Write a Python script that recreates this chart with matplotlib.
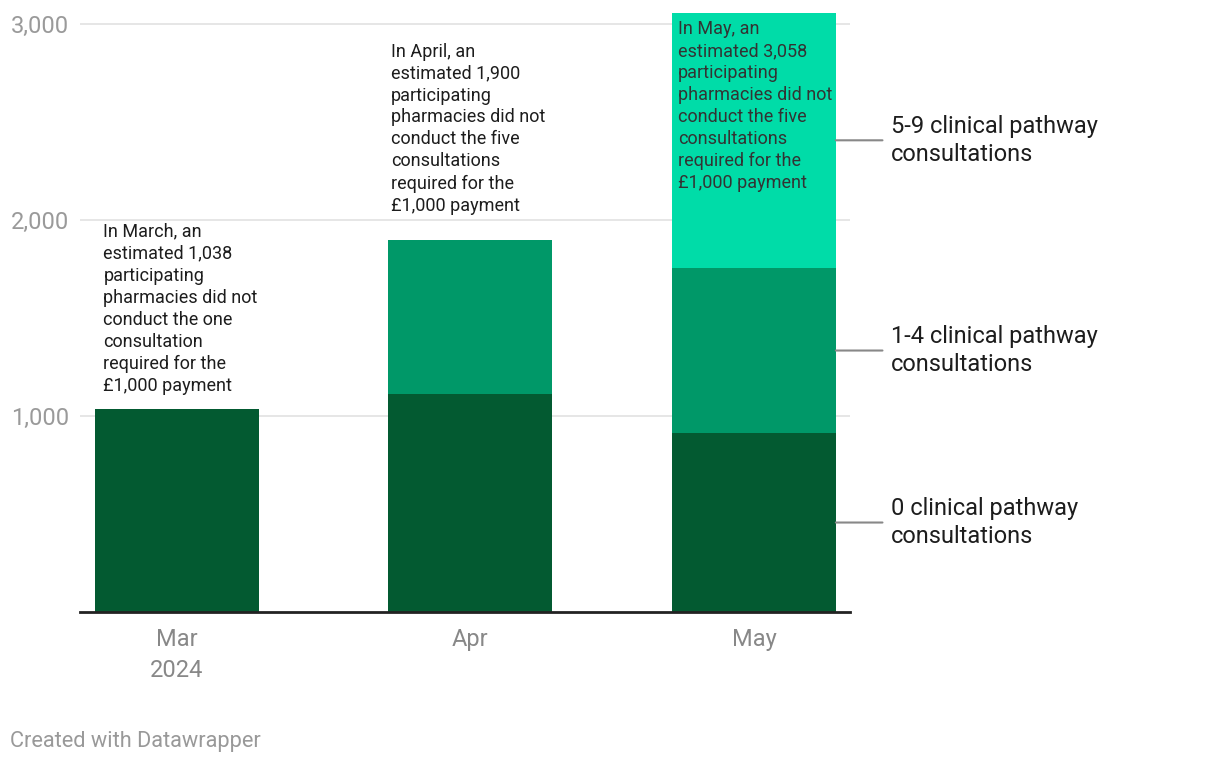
import matplotlib
matplotlib.use("Agg")
import matplotlib.pyplot as plt
import numpy as np

plt.rcParams['font.family'] = ['Roboto', 'DejaVu Sans']

# Data
months = ["Mar\n2024", "Apr", "May"]
month_days = [0, 31, 61]  # days since 1 Mar 2024
zero_consult = [1038, 1112, 913]
one_to_four = [0, 788, 842]
five_to_nine = [0, 0, 1303]
series_names = ["0 clinical pathway\nconsultations",
                "1-4 clinical pathway\nconsultations",
                "5-9 clinical pathway\nconsultations"]
colors = ["#035a31", "#009868", "#00dca8"]
notes = [
    "In March, an\nestimated 1,038\nparticipating\npharmacies did not\nconduct the one\nconsultation\nrequired for the\n£1,000 payment",
    "In April, an\nestimated 1,900\nparticipating\npharmacies did not\nconduct the five\nconsultations\nrequired for the\n£1,000 payment",
    "In May, an\nestimated 3,058\nparticipating\npharmacies did not\nconduct the five\nconsultations\nrequired for the\n£1,000 payment",
]
yticks = [1000, 2000, 3000]
ytick_labels = ["1,000", "2,000", "3,000"]

W, H = 1220, 766
fig = plt.figure(figsize=(W / 100, H / 100), dpi=100)
ax = fig.add_axes([80 / W, (H - 612) / H, 770 / W, (612 - 12.6) / H])

x = np.array(month_days, dtype=float)
bw = 17.3
bottoms = np.zeros(3)
layers = [zero_consult, one_to_four, five_to_nine]
for vals, c in zip(layers, colors):
    ax.bar(x, vals, width=bw, bottom=bottoms, color=c, zorder=2, linewidth=0)
    bottoms += np.array(vals)

ax.set_xlim(-10.25, 71.15)
ax.set_ylim(0, 3058)

for s in ax.spines.values():
    s.set_visible(False)
ax.axhline(0, color="#222222", lw=2, zorder=3, clip_on=False)
for t in yticks:
    ax.axhline(t, color="#e2e2e2", lw=1.2, zorder=1)

ax.set_yticks(yticks)
ax.set_yticklabels(ytick_labels, color="#9a9a9a", fontsize=17)
ax.tick_params(axis="y", length=0, pad=8)
ax.set_xticks(x)
ax.set_xticklabels(months, color="#888888", fontsize=17, linespacing=1.45)
ax.tick_params(axis="x", length=0, pad=11.5)

# Annotations
totals = bottoms
note_offsets = [(6, 10), (2, 18), (4, -5.5)]
for i, (note, (dx, dy)) in enumerate(zip(notes, note_offsets)):
    ax.annotate(note, xy=(x[i] - bw / 2, totals[i]), xytext=(dx, dy),
                textcoords="offset points", ha="left",
                va="bottom" if i < 2 else "top",
                fontsize=13, color="#1d1d1d" if i < 2 else "#333333",
                linespacing=1.285, zorder=4)

# Series labels with connector lines on the last bar
b = 0
for vals, name in zip(layers, series_names):
    mid = b + vals[-1] / 2
    b += vals[-1]
    ax.annotate(name, xy=(x[-1] + bw / 2, mid), xytext=(39.6, 0),
                textcoords="offset points", ha="left", va="center",
                fontsize=17, color="#1d1d1d", linespacing=1.27,
                arrowprops=dict(arrowstyle="-", color="#888888", lw=1.5,
                                shrinkA=4, shrinkB=0),
                annotation_clip=False)

fig.text(10 / W, 1 - 741 / H, "Created with Datawrapper", color="#999999",
         fontsize=15.7, va="center", ha="left")

fig.savefig("out.png", dpi=100, facecolor="white")
